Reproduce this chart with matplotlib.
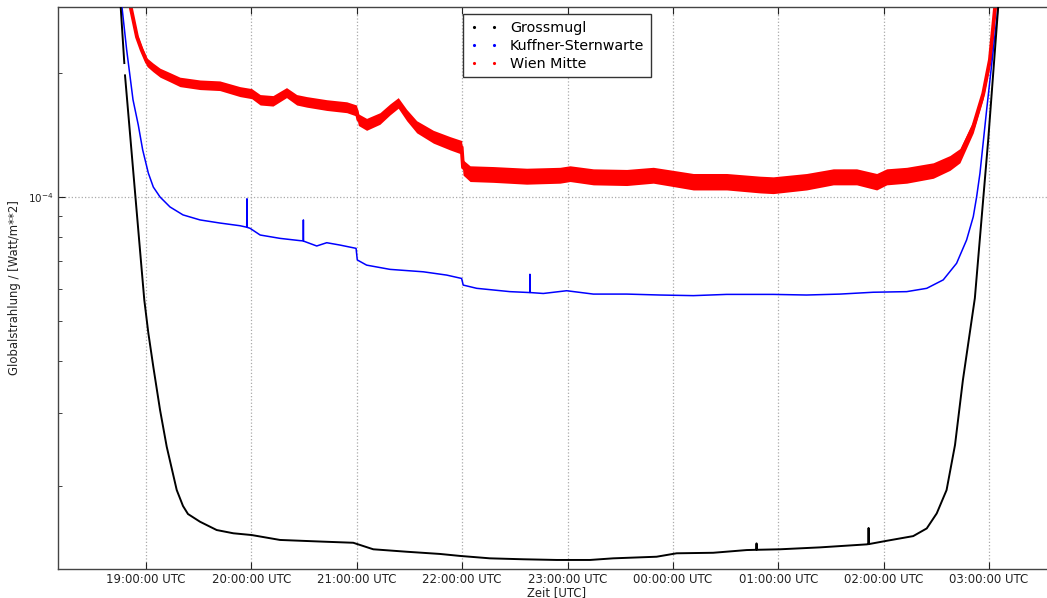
import matplotlib
matplotlib.use("Agg")
import matplotlib.pyplot as plt
import matplotlib.dates as mdates
from matplotlib.lines import Line2D
from matplotlib.ticker import NullFormatter
import numpy as np
import pandas as pd

# Globalstrahlung in W/m**2 (night of one day to the next)
grossmugl_time = ["18:45:12", "18:45:36", "18:47:39", "18:47:50", "18:48:03", "18:56:35",
                  "18:59:02", "19:01:19", "19:04:10", "19:08:00", "19:11:48", "19:17:30",
                  "19:21:04", "19:23:54", "19:30:45", "19:40:15", "19:49:42", "20:00:10",
                  "20:16:18", "20:40:54", "20:58:00", "21:09:24", "21:28:24", "21:47:24",
                  "21:58:48", "22:15:48", "22:34:48", "22:53:48", "23:12:48", "23:26:00",
                  "23:50:42", "00:02:06", "00:22:54", "00:42:00", "00:47:30", "00:47:36",
                  "00:47:42", "01:00:54", "01:23:42", "01:50:18", "01:51:20", "01:51:24",
                  "01:51:28", "02:01:42", "02:16:48", "02:24:30", "02:30:12", "02:35:48",
                  "02:40:36", "02:45:06", "02:51:54", "02:59:30", "03:05:12", "03:06:12"]
grossmugl_value = [3.17e-4, 2.88e-4, 2.11e-4, np.nan, 1.97e-4, 0.744e-4,
                   0.563e-4, 0.469e-4, 0.388e-4, 0.305e-4, 0.2485e-4, 0.1952e-4,
                   0.1786e-4, 0.1708e-4, 0.1636e-4, 0.1562e-4, 0.1534e-4, 0.1519e-4,
                   0.1478e-4, 0.1464e-4, 0.1455e-4, 0.1403e-4, 0.1384e-4, 0.1367e-4,
                   0.1352e-4, 0.1334e-4, 0.1327e-4, 0.1322e-4, 0.1322e-4, 0.1334e-4,
                   0.1346e-4, 0.1372e-4, 0.1376e-4, 0.1397e-4, 0.1399e-4, 0.1450e-4,
                   0.1399e-4, 0.1403e-4, 0.1418e-4, 0.1442e-4, 0.1444e-4, 0.1580e-4,
                   0.1444e-4, 0.1471e-4, 0.1510e-4, 0.1576e-4, 0.1714e-4, 0.1952e-4,
                   0.2509e-4, 0.3605e-4, 0.569e-4, 1.374e-4, 2.89e-4, 3.17e-4]

kuffner_time = ["18:45:48", "18:46:20", "18:49:00", "18:52:36", "18:55:36", "18:58:07",
                "19:01:19", "19:04:10", "19:08:00", "19:13:40", "19:21:04", "19:30:45",
                "19:42:00", "19:53:30", "19:57:20", "19:57:30", "19:57:40", "19:59:12",
                "20:05:00", "20:16:18", "20:27:42", "20:29:30", "20:29:36", "20:29:42",
                "20:37:12", "20:42:54", "20:50:24", "20:59:36", "21:00:18", "21:05:36",
                "21:18:54", "21:37:54", "21:51:12", "21:59:42", "22:00:36", "22:08:18",
                "22:27:12", "22:38:30", "22:38:36", "22:38:42", "22:46:12", "22:59:30",
                "23:14:42", "23:33:42", "23:52:36", "00:11:36", "00:30:36", "00:57:06",
                "01:16:06", "01:35:06", "01:54:00", "02:13:06", "02:24:30", "02:33:54",
                "02:41:30", "02:47:12", "02:51:00", "02:52:54", "02:54:48", "02:58:36",
                "03:02:24", "03:05:12", "03:06:12"]
kuffner_value = [3.17e-4, 2.88e-4, 2.27e-4, 1.72e-4, 1.494e-4, 1.30e-4,
                 1.143e-4, 1.057e-4, 1.00e-4, 0.946e-4, 0.905e-4, 0.880e-4,
                 0.865e-4, 0.852e-4, 0.845e-4, 0.99e-4, 0.844e-4, 0.840e-4,
                 0.809e-4, 0.794e-4, 0.784e-4, 0.783e-4, 0.880e-4, 0.782e-4,
                 0.761e-4, 0.775e-4, 0.765e-4, 0.751e-4, 0.704e-4, 0.684e-4,
                 0.668e-4, 0.659e-4, 0.647e-4, 0.635e-4, 0.612e-4, 0.601e-4,
                 0.590e-4, 0.587e-4, 0.650e-4, 0.587e-4, 0.584e-4, 0.593e-4,
                 0.582e-4, 0.582e-4, 0.579e-4, 0.577e-4, 0.581e-4, 0.581e-4,
                 0.579e-4, 0.582e-4, 0.588e-4, 0.590e-4, 0.601e-4, 0.630e-4,
                 0.691e-4, 0.787e-4, 0.896e-4, 1.00e-4, 1.141e-4, 1.624e-4,
                 2.27e-4, 2.89e-4, 3.17e-4]

wien_time = ["18:49:48", "18:51:18", "18:54:53", "18:57:33", "19:00:34", "19:04:00",
             "19:08:00", "19:13:40", "19:19:20", "19:30:45", "19:42:00", "19:53:30",
             "20:00:10", "20:05:00", "20:12:18", "20:20:00", "20:25:48", "20:31:30",
             "20:42:54", "20:54:18", "20:59:50", "21:00:54", "21:05:36", "21:13:12",
             "21:18:54", "21:23:36", "21:28:24", "21:34:06", "21:43:36", "21:53:06",
             "21:59:42", "22:00:30", "22:04:30", "22:17:42", "22:36:42", "22:55:42",
             "23:01:24", "23:14:42", "23:33:42", "23:48:48", "00:00:12", "00:11:36",
             "00:30:36", "00:49:36", "00:57:06", "01:16:06", "01:31:18", "01:44:36",
             "01:56:00", "02:01:42", "02:13:06", "02:28:12", "02:37:42", "02:43:24",
             "02:51:00", "02:56:42", "03:00:30", "03:03:18", "03:04:30"]
wien_value = [3.17e-4, 2.88e-4, 2.44e-4, 2.27e-4, 2.12e-4, 2.06e-4,
              2.00e-4, 1.95e-4, 1.90e-4, 1.87e-4, 1.86e-4, 1.80e-4,
              1.78e-4, 1.72e-4, 1.71e-4, 1.79e-4, 1.72e-4, 1.70e-4,
              1.67e-4, 1.65e-4, 1.62e-4, 1.54e-4, 1.50e-4, 1.55e-4,
              1.63e-4, 1.69e-4, 1.58e-4, 1.48e-4, 1.40e-4, 1.35e-4,
              1.32e-4, 1.18e-4, 1.14e-4, 1.135e-4, 1.124e-4, 1.13e-4,
              1.14e-4, 1.12e-4, 1.116e-4, 1.13e-4, 1.11e-4, 1.09e-4,
              1.09e-4, 1.073e-4, 1.069e-4, 1.09e-4, 1.12e-4, 1.12e-4,
              1.09e-4, 1.12e-4, 1.13e-4, 1.16e-4, 1.21e-4, 1.26e-4,
              1.48e-4, 1.78e-4, 2.15e-4, 2.84e-4, 3.17e-4]
# half width of the scatter band of the Wien Mitte readings
wien_spread = 5.0e-6

day = "2014-03-01"


def stamps(times):
    out = []
    for s in times:
        t = pd.Timestamp(day + " " + s)
        if t.hour < 12:
            t += pd.Timedelta(days=1)
        out.append(t)
    return out


fig = plt.figure(figsize=(10.47, 5.98), dpi=100)
fig.patch.set_facecolor("white")
ax = fig.add_axes([58 / 1047, 29 / 598, (1056 - 58) / 1047, 562 / 598])

tw = stamps(wien_time)
wv = np.array(wien_value)
ax.fill_between(tw, wv - wien_spread, wv + wien_spread, color="#ff0000", lw=0, zorder=2)
ax.plot(tw, wv, color="#ff0000", lw=2.8, zorder=2)
ax.plot(stamps(kuffner_time), kuffner_value, color="#0000ff", lw=1.1, zorder=3)
ax.plot(stamps(grossmugl_time), grossmugl_value, color="black", lw=1.4, zorder=4)

ax.set_yscale("log")
ax.set_ylim(1.257e-5, 2.884e-4)
ax.set_xlim(pd.Timestamp(day + " 18:09:54"), pd.Timestamp(day + " 03:38:06") + pd.Timedelta(days=1))
ax.yaxis.set_minor_formatter(NullFormatter())

ax.xaxis.set_major_locator(mdates.HourLocator())
ax.xaxis.set_major_formatter(mdates.DateFormatter("%H:%M:%S UTC"))

ax.grid(True, which="major", color="#aaaaaa", linestyle=":", linewidth=0.9)
ax.tick_params(which="both", direction="in", top=True, right=True,
               colors="#222222", labelcolor="#222222")
ax.tick_params(axis="x", labelsize=8.5)
ax.tick_params(axis="y", labelsize=7.5)
ax.tick_params(which="major", length=5, pad=3)
ax.tick_params(which="minor", length=3)
for sp in ax.spines.values():
    sp.set_color("#444444")
    sp.set_linewidth(1.0)

ax.set_xlabel("Zeit [UTC]", fontsize=8.4, color="#222222", labelpad=0)
ax.set_ylabel("Globalstrahlung / [Watt/m**2]", fontsize=8.4, color="#222222")
ax.yaxis.set_label_coords((21 - 58) / 998, 0.5)

handles = [Line2D([], [], ls="none", marker=".", ms=2.5, color=c)
           for c in ["black", "#0000ff", "#ff0000"]]
leg = ax.legend(handles, ["Grossmugl", "Kuffner-Sternwarte", "Wien Mitte"],
                loc="upper center", numpoints=2, fontsize=10.3, handlelength=2.0,
                handletextpad=0.8, fancybox=False, framealpha=1, borderaxespad=0.5,
                labelspacing=0.28, borderpad=0.45)
leg.get_frame().set_edgecolor("#333333")
leg.get_frame().set_linewidth(1.0)

fig.savefig("out.png", dpi=100, facecolor="white")
